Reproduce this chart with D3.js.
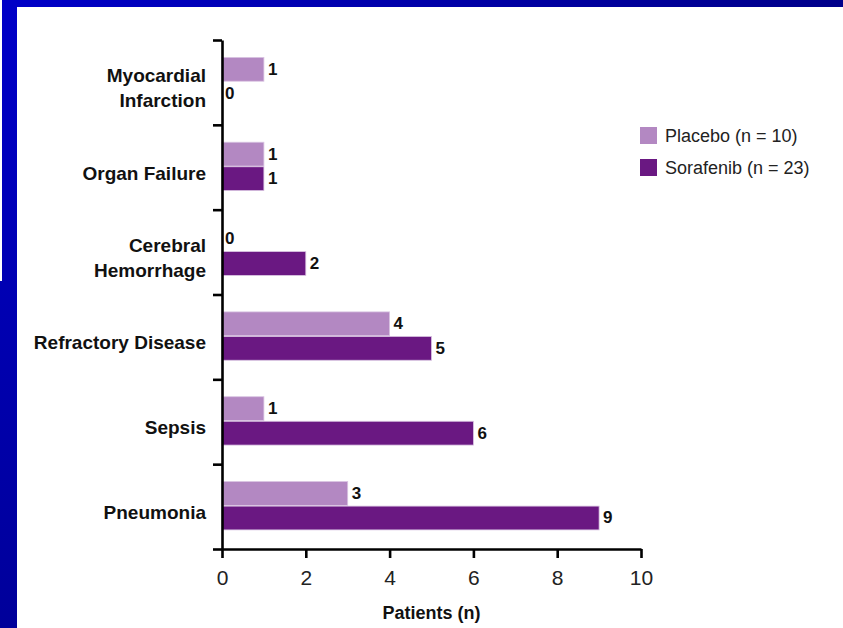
<!DOCTYPE html>
<html><head><meta charset="utf-8">
<script src="https://cdn.jsdelivr.net/npm/d3@7"></script>
<style>body{margin:0;background:#fff}svg{display:block}</style>
</head><body><svg id="c" width="843" height="628"></svg>
<script>
const categories = ["Myocardial Infarction","Organ Failure","Cerebral Hemorrhage","Refractory Disease","Sepsis","Pneumonia"];
const categoryLines = [["Myocardial","Infarction"],["Organ Failure"],["Cerebral","Hemorrhage"],["Refractory Disease"],["Sepsis"],["Pneumonia"]];
const placebo = [1,1,0,4,1,3];
const sorafenib = [0,1,2,5,6,9];
const seriesNames = ["Placebo (n = 10)","Sorafenib (n = 23)"];
const seriesColors = ["#b388c2","#6a1882"];
const xTicks = [0,2,4,6,8,10];
const xTitle = "Patients (n)";

const svg = d3.select("#c");
const W = 843, H = 628;

// slide background frame
const defs = svg.append("defs");
const rg = defs.append("radialGradient").attr("id","bg").attr("gradientUnits","userSpaceOnUse")
  .attr("cx",0).attr("cy",0).attr("r",900);
rg.append("stop").attr("offset",0).attr("stop-color","#0000c8");
rg.append("stop").attr("offset",1).attr("stop-color","#000086");
svg.append("rect").attr("x",0).attr("y",0).attr("width",W).attr("height",H).attr("fill","#fff");
svg.append("rect").attr("x",2).attr("y",0).attr("width",W-2).attr("height",7).attr("fill","url(#bg)");
svg.append("rect").attr("x",2).attr("y",0).attr("width",15).attr("height",H).attr("fill","url(#bg)");
svg.append("rect").attr("x",0).attr("y",281).attr("width",17).attr("height",H-281).attr("fill","url(#bg)");

const x = d3.scaleLinear().domain([0,10]).range([222,641]);
const y = d3.scaleBand().domain(categories).range([40,549]).padding(0);
const bw = y.bandwidth();
const sub = d3.scaleBand().domain([0,1]).range([bw*0.205,bw*0.775]).paddingInner(0.03);

const data = categories.map((c,i)=>({c, vals:[placebo[i],sorafenib[i]]}));

const g = svg.append("g");
const groups = g.selectAll("g.cat").data(data).join("g").attr("class","cat")
  .attr("transform",d=>`translate(0,${y(d.c)})`);
groups.selectAll("rect").data(d=>d.vals.map((v,k)=>({v,k}))).join("rect")
  .attr("x",x(0)).attr("y",d=>sub(d.k)).attr("height",sub.bandwidth())
  .attr("width",d=>x(d.v)-x(0)).attr("fill",d=>seriesColors[d.k])
  .attr("stroke",d=>d.v>0?"#d9c4e2":"none").attr("stroke-width",0.8);
groups.selectAll("text.val").data(d=>d.vals.map((v,k)=>({v,k}))).join("text").attr("class","val")
  .attr("x",d=>x(d.v)+(d.v>0?4:3)).attr("y",d=>sub(d.k)+sub.bandwidth()/2)
  .attr("dominant-baseline","central")
  .attr("font-family","Liberation Sans, Arial, sans-serif").attr("font-weight","bold")
  .attr("font-size",17).attr("fill","#111").text(d=>d.v);

// category labels
const lab = g.selectAll("text.cat").data(data).join("text").attr("class","cat")
  .attr("text-anchor","end")
  .attr("font-family","Liberation Sans, Arial, sans-serif").attr("font-weight","bold")
  .attr("font-size",19).attr("fill","#111");
lab.each(function(d,i){
  const lines = categoryLines[i];
  const cy = y(d.c)+bw/2+6;
  const t = d3.select(this);
  lines.forEach((ln,j)=>{
    t.append("tspan").attr("x",206).attr("y",cy+(j-(lines.length-1)/2)*25)
      .attr("dominant-baseline","central").text(ln);
  });
});

// y axis with boundary ticks
const yb = d3.scaleLinear().domain([0,categories.length]).range([40,549]);
const yAxis = svg.append("g").attr("transform",`translate(${x(0)},0)`)
  .call(d3.axisLeft(yb).tickValues(d3.range(categories.length+1)).tickSize(9).tickSizeOuter(0).tickFormat(""));
yAxis.selectAll("path,line").attr("stroke","#000").attr("stroke-width",2.6);

// x axis
const xAxis = svg.append("g").attr("transform","translate(0,549)")
  .call(d3.axisBottom(x).tickValues(xTicks).tickSize(9).tickSizeOuter(0).tickPadding(12));
xAxis.selectAll("path,line").attr("stroke","#000").attr("stroke-width",2.6);
xAxis.selectAll("text").attr("font-family","Liberation Sans, Arial, sans-serif")
  .attr("font-size",21).attr("fill","#222");

svg.append("text").attr("x",x(5)).attr("y",613).attr("text-anchor","middle")
  .attr("dominant-baseline","central")
  .attr("font-family","Liberation Sans, Arial, sans-serif").attr("font-weight","bold")
  .attr("font-size",18).attr("fill","#111").text(xTitle);

// legend
const leg = svg.append("g").selectAll("g").data(seriesNames).join("g")
  .attr("transform",(d,i)=>`translate(640,${127+i*32})`);
leg.append("rect").attr("width",17).attr("height",17).attr("fill",(d,i)=>seriesColors[i]);
leg.append("text").attr("x",25).attr("y",9).attr("dominant-baseline","central")
  .attr("font-family","Liberation Sans, Arial, sans-serif").attr("font-size",18)
  .attr("fill","#222").text(d=>d);
</script></body></html>
